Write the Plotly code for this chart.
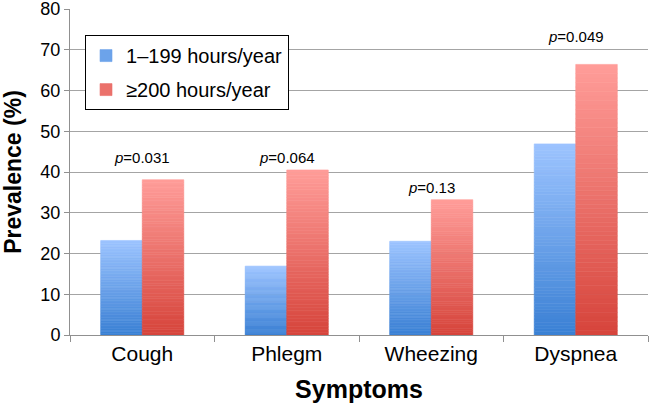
import plotly.graph_objects as go

categories = ["Cough", "Phlegm", "Wheezing", "Dyspnea"]
series_names = ["1\u2013199 hours/year", "\u2265200 hours/year"]
low_values = [23.2, 16.9, 23.0, 46.9]
high_values = [38.1, 40.5, 33.2, 66.4]
p_values = ["0.031", "0.064", "0.13", "0.049"]
y_ticks = [0, 10, 20, 30, 40, 50, 60, 70, 80]

FONT = "Liberation Sans, Arial, sans-serif"
# gradient end colours per series: (bottom, top)
grad = [((0x3a, 0x80, 0xd4), (0x9d, 0xc4, 0xff)),
        ((0xd6, 0x44, 0x3b), (0xff, 0x9d, 0x99))]
N = 60


def lerp(c0, c1, t):
    return "rgb(%d,%d,%d)" % tuple(round(a + (b - a) * t) for a, b in zip(c0, c1))


fig = go.Figure()
for si, (name, vals) in enumerate(zip(series_names, [low_values, high_values])):
    bottom, top = grad[si]
    for k in range(N):
        t = (k + 0.5) / N
        col = lerp(bottom, top, t)
        fig.add_trace(go.Bar(
            x=categories,
            y=[v / N for v in vals],
            base=[v * k / N for v in vals],
            offsetgroup=str(si),
            name=name,
            legendgroup=name,
            showlegend=(k == N // 2),
            marker=dict(color=col, line=dict(width=0.6, color=col)),
            hoverinfo="skip",
        ))

p_label_shift = [22, 12, 12, 28]
for cat, lo, hi, p, s in zip(categories, low_values, high_values, p_values, p_label_shift):
    fig.add_annotation(x=cat, y=max(lo, hi), text="<i>p</i>=" + p, showarrow=False,
                       yanchor="middle", yshift=s, font=dict(family=FONT, size=15, color="#000"))

fig.update_layout(
    width=650, height=407,
    margin=dict(l=70, r=2, t=9, b=72, autoexpand=False),
    plot_bgcolor="white", paper_bgcolor="white",
    barmode="group", bargap=0.425, bargroupgap=0,
    font=dict(family=FONT, color="#000"),
    legend=dict(x=0.026, y=0.92, xanchor="left", yanchor="top",
                bordercolor="#000", borderwidth=1, bgcolor="white",
                font=dict(size=20, family=FONT), tracegroupgap=5, itemwidth=30),
)
fig.update_yaxes(range=[0, 80], tickvals=y_ticks, showgrid=True, gridcolor="#a4a4a4", gridwidth=1,
                 showline=True, linecolor="#909090", linewidth=1, ticks="outside", ticklen=5,
                 tickcolor="#909090", tickfont=dict(size=18, family=FONT), automargin=False,
                 ticklabeloverflow="allow",
                 title=dict(text="<b>Prevalence (%)</b>", font=dict(size=23, family=FONT), standoff=14),
                 zeroline=False)
fig.update_xaxes(showline=True, linecolor="#909090", linewidth=1, ticks="outside", ticklen=6,
                 tickcolor="#909090", tickson="boundaries", tickfont=dict(size=21, family=FONT),
                 automargin=False,
                 title=dict(text="<b>Symptoms</b>", font=dict(size=25, family=FONT), standoff=16),
                 mirror=False)

fig.write_html("out.html", config={"displayModeBar": False},
               post_script="document.body.style.margin='0';document.body.style.overflow='hidden';")
